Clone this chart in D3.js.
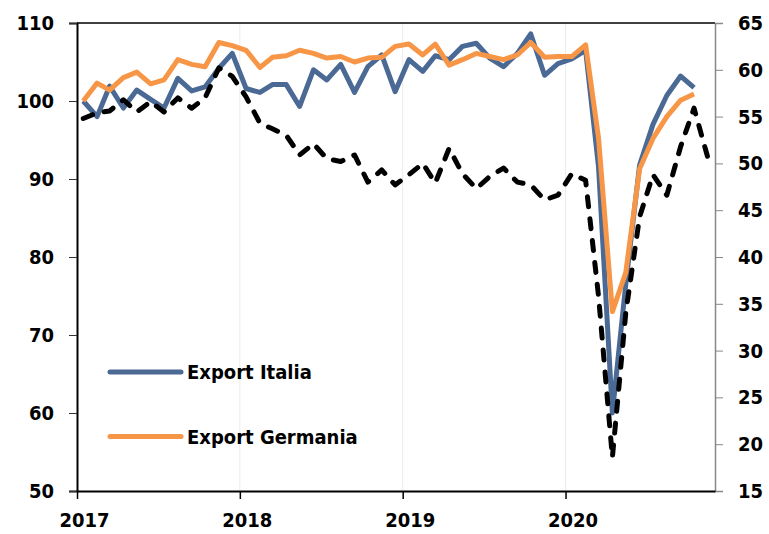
<!DOCTYPE html>
<html>
<head>
<meta charset="utf-8">
<script src="https://cdn.jsdelivr.net/npm/d3@7"></script>
<style>
  body { margin: 0; background: #fff; }
  svg text { font-family: "DejaVu Sans Condensed", "DejaVu Sans", sans-serif; font-stretch: condensed; font-weight: bold; fill: #000; }
</style>
</head>
<body>
<div id="chart"></div>
<script>
// monthly data, Jan 2017 onwards
var startMonth = new Date(2017, 0, 15)
var years = [2017, 2018, 2019, 2020]
var leftTicks = [50, 60, 70, 80, 90, 100, 110]
var rightTicks = [15, 20, 25, 30, 35, 40, 45, 50, 55, 60, 65]

var exportItalia = [100.0, 98.0, 101.9, 99.1, 101.4, 100.2, 99.1, 102.9, 101.3, 101.8, 104.2, 106.1,
    101.6, 101.1, 102.1, 102.1, 99.3, 104.0, 102.7, 104.7, 101.1, 104.4, 105.9, 101.2,
    105.3, 103.8, 105.8, 105.3, 107.0, 107.4, 105.5, 104.4, 106.1, 108.6, 103.3, 104.8,
    105.4, 106.5, 91.5, 60.0, 76.5, 91.8, 97.0, 100.7, 103.2, 101.7]

var exportGermania = [100.0, 102.3, 101.4, 103.0, 103.7, 102.2, 102.7, 105.3, 104.7, 104.4, 107.5, 107.1,
    106.5, 104.3, 105.6, 105.8, 106.5, 106.1, 105.5, 105.7, 105.0, 105.5, 105.6, 107.0,
    107.3, 105.9, 107.3, 104.6, 105.3, 106.1, 105.7, 105.3, 105.9, 107.5, 105.6, 105.7,
    105.7, 107.2, 95.2, 73.0, 78.0, 91.3, 95.2, 98.0, 100.1, 100.9]

// dashed series, right axis
var indiceDx = [54.8, 55.4, 55.6, 56.8, 55.5, 56.6, 55.5, 57.0, 55.9, 57.0, 60.2, 59.3,
    57.1, 54.3, 53.7, 53.0, 50.9, 52.1, 50.5, 50.2, 50.9, 48.0, 49.3, 47.7,
    48.8, 50.0, 47.9, 51.6, 48.9, 47.3, 48.6, 49.5, 48.0, 47.7, 46.1, 46.6,
    48.9, 48.2, 35.8, 18.6, 34.0, 44.3, 48.8, 46.6, 51.8, 55.9, 50.6]

var legendNames = ['Export Italia', 'Export Germania']
var colors = ['#4a6994', '#f79646']

var margin = { top: 23, right: 54, bottom: 43, left: 77 },
    width = 769,
    height = 534

var svg = d3.select('#chart').append('svg')
    .attr('width', width)
    .attr('height', height)

width = width - margin.left - margin.right
height = height - margin.top - margin.bottom

var g = svg.append('g').attr('transform', `translate(${margin.left}, ${margin.top})`)

var x = d3.scaleTime()
    .domain([new Date(2017, 0, 1), new Date(2020, 11, 1)])
    .range([0, width])
var yL = d3.scaleLinear().domain([50, 110]).range([height, 0])
var yR = d3.scaleLinear().domain([15, 65]).range([height, 0])

function monthDate(i) { return d3.timeMonth.offset(startMonth, i) }

// year gridlines
g.append('g').selectAll('line')
    .data(years.slice(1))
    .enter().append('line')
    .attr('x1', d => x(new Date(d, 0, 1))).attr('x2', d => x(new Date(d, 0, 1)))
    .attr('y1', 0).attr('y2', height)
    .style('stroke', '#ececec').style('stroke-width', 1)

// top border
g.append('line').attr('x1', 0).attr('x2', width).attr('y1', 0).attr('y2', 0)
    .style('stroke', '#000').style('stroke-width', 1.5)

var lineL = d3.line().x((d, i) => x(monthDate(i))).y(d => yL(d))
var lineR = d3.line().x((d, i) => x(monthDate(i))).y(d => yR(d))

g.append('path').datum(exportItalia).attr('d', lineL)
    .style('fill', 'none').style('stroke', colors[0]).style('stroke-width', 5)
    .style('stroke-linejoin', 'round')
g.append('path').datum(exportGermania).attr('d', lineL)
    .style('fill', 'none').style('stroke', colors[1]).style('stroke-width', 5)
    .style('stroke-linejoin', 'round')
g.append('path').datum(indiceDx).attr('d', lineR)
    .style('fill', 'none').style('stroke', '#000').style('stroke-width', 5)
    .style('stroke-dasharray', '10,12').style('stroke-linecap', 'round')
    .style('stroke-linejoin', 'round')

// axes
var axisLeft = d3.axisLeft(yL).tickValues(leftTicks).tickSize(8).tickPadding(15)
var gl = g.append('g').call(axisLeft)
gl.select('.domain').style('stroke', '#000').style('stroke-width', 2)
gl.selectAll('.tick line').style('stroke', '#333')

var axisRight = d3.axisRight(yR).tickValues(rightTicks).tickSize(8).tickPadding(15)
var gr = g.append('g').attr('transform', `translate(${width}, 0)`).call(axisRight)
gr.select('.domain').style('stroke', '#888').style('stroke-width', 1.5)
gr.selectAll('.tick line').style('stroke', '#888')

var axisBottom = d3.axisBottom(x)
    .tickValues(years.map(d => new Date(d, 0, 1)))
    .tickFormat(d3.timeFormat('%Y'))
    .tickSize(8).tickSizeOuter(0).tickPadding(14)
var gb = g.append('g').attr('transform', `translate(0, ${height})`).call(axisBottom)
gb.select('.domain').style('stroke', '#000').style('stroke-width', 2)
gb.selectAll('.tick line').style('stroke', '#000').style('stroke-width', 1.5)
gb.selectAll('.tick text').attr('dx', 7)

svg.selectAll('.tick text').style('font-size', '20px')

// legend
var legend = svg.append('g').selectAll('g')
    .data(legendNames)
    .enter().append('g')
    .attr('transform', (d, i) => `translate(110, ${372 + i * 64.5})`)
legend.append('line')
    .attr('x1', 0).attr('x2', 71)
    .style('stroke', (d, i) => colors[i]).style('stroke-width', 5)
    .style('stroke-linecap', 'round')
legend.append('text')
    .attr('x', 77).attr('dy', '0.36em')
    .style('font-size', '20px')
    .text(d => d)
</script>
</body>
</html>
